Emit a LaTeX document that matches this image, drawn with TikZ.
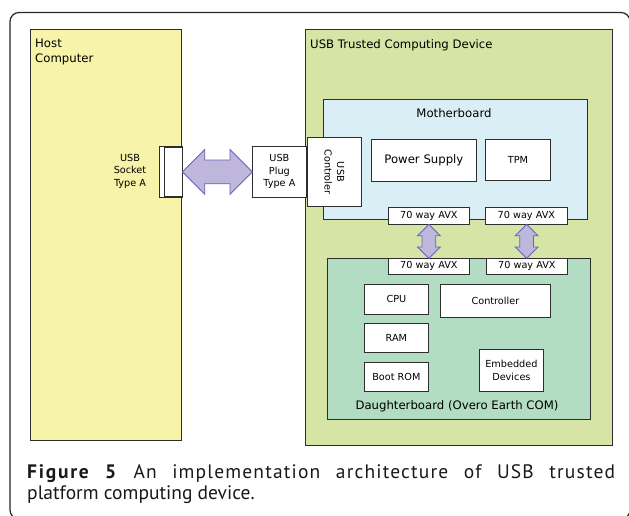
\documentclass[tikz,border=0pt]{standalone}
\usepackage{fontspec}
\newfontfamily\diafont{DejaVu Sans}
\newfontfamily\capfont{PT Sans}
\usepackage{tikz}
\usetikzlibrary{shapes.arrows,calc}
\definecolor{hostyellow}{RGB}{247,243,168}
\definecolor{devgreen}{RGB}{214,228,165}
\definecolor{mbblue}{RGB}{218,239,245}
\definecolor{dbgreen}{RGB}{178,221,195}
\definecolor{arrfill}{RGB}{191,182,219}
\definecolor{arrline}{RGB}{102,102,187}
\definecolor{boxline}{RGB}{45,45,45}
\tikzset{board/.style={draw=boxline,line width=0.8pt,anchor=north west,inner sep=0pt},
part/.style={draw=boxline,fill=white,line width=0.8pt,anchor=north west,inner sep=0pt,align=center,font=\diafont\fontsize{9.7}{12.5}\selectfont},
bigtext/.style={inner sep=0pt,font=\diafont\fontsize{11.7}{15}\selectfont},
smalltext/.style={inner sep=0pt,align=center,font=\diafont\fontsize{9.7}{12.5}\selectfont},
blockarrow/.style={double arrow,draw=arrline,fill=arrfill,line width=0.8pt,inner xsep=0pt},
captext/.style={anchor=base west,inner sep=0pt,text=black!90,font=\capfont\fontsize{19.5}{23}\selectfont}}

\begin{document}
\begin{tikzpicture}[x=1pt,y=-1pt]
\useasboundingbox (0,0) rectangle (629,516);
% outer frame
\draw[line width=1.2pt,draw=black!85,rounded corners=9pt] (10,12.5) rectangle (630,519);
% host side
\node[board,fill=hostyellow,minimum width=151,minimum height=411] (host) at (30,29) {};
\node[bigtext,anchor=north west,align=left] (hostlabel) at (35,39) {Host\\Computer};
\node[part,minimum width=23,minimum height=51] (sockout) at (159,146) {};
\node[part,minimum width=18,minimum height=49] (sockin) at (164,147) {};
\node[smalltext] (socklabel) at (130,171) {USB\\Socket\\Type A};
% device side
\node[board,fill=devgreen,minimum width=307,minimum height=416] (device) at (305,29) {};
\node[bigtext,anchor=north west] (devlabel) at (310,39) {USB Trusted Computing Device};
\node[part,minimum width=54,minimum height=51] (plug) at (252,146) {USB\\Plug\\Type A};
% motherboard
\node[board,fill=mbblue,minimum width=264,minimum height=120] (mboard) at (323,99) {};
\node[bigtext] (mblabel) at (454,113) {Motherboard};
\node[part,minimum width=54,minimum height=69] (usbctrl) at (307,137) {};
\node[smalltext,rotate=-90] (ctrllabel) at (usbctrl.center) {USB\\Controler};
\node[part,minimum width=105,minimum height=42,font=\diafont\fontsize{11.7}{15}\selectfont] (power) at (371,139) {Power Supply};
\node[part,minimum width=65,minimum height=41] (tpm) at (485,139) {TPM};
\node[part,minimum width=81,minimum height=17] (avx1) at (388,207) {70 way AVX};
\node[part,minimum width=82,minimum height=17] (avx2) at (485,207) {70 way AVX};
% daughterboard
\node[board,fill=dbgreen,minimum width=263,minimum height=161] (dboard) at (327,258) {};
\node[bigtext] (dblabel) at (457,406) {Daughterboard (Overo Earth COM)};
\node[part,minimum width=81,minimum height=16] (avx3) at (388,258) {70 way AVX};
\node[part,minimum width=81,minimum height=16] (avx4) at (486,258) {70 way AVX};
\node[part,minimum width=64,minimum height=30] (cpu) at (364,284) {CPU};
\node[part,minimum width=110,minimum height=33] (ctrl) at (440,284) {Controller};
\node[part,minimum width=64,minimum height=29] (ram) at (364,323) {RAM};
\node[part,minimum width=64,minimum height=29] (bootrom) at (364,362) {Boot ROM};
\node[part,minimum width=64,minimum height=42] (embdev) at (479,349) {Embedded\\Devices};
% block arrows
\node[blockarrow,inner ysep=11.5pt,minimum height=70,double arrow head extend=10.5] (usbarrow) at ($(sockin.east)!.5!(plug.west)$) {};
\node[blockarrow,rotate=90,inner ysep=6.5pt,minimum height=34,double arrow head extend=4.5] (avxarrowa) at ($(avx1.south)!.5!(avx3.north)$) {};
\node[blockarrow,rotate=90,inner ysep=6.5pt,minimum height=34,double arrow head extend=4.5] (avxarrowb) at ($(avx2.south)!.5!(avx4.north)$) {};
% caption
\node[captext] (cap1) at (27,478) {\addfontfeature{LetterSpace=6}\makebox[588pt][s]{\textbf{\addfontfeature{LetterSpace=9}Figure 5} An implementation architecture of USB trusted}};
\node[captext] (cap2) at (27,499) {platform computing device.};
\end{tikzpicture}
\end{document}
